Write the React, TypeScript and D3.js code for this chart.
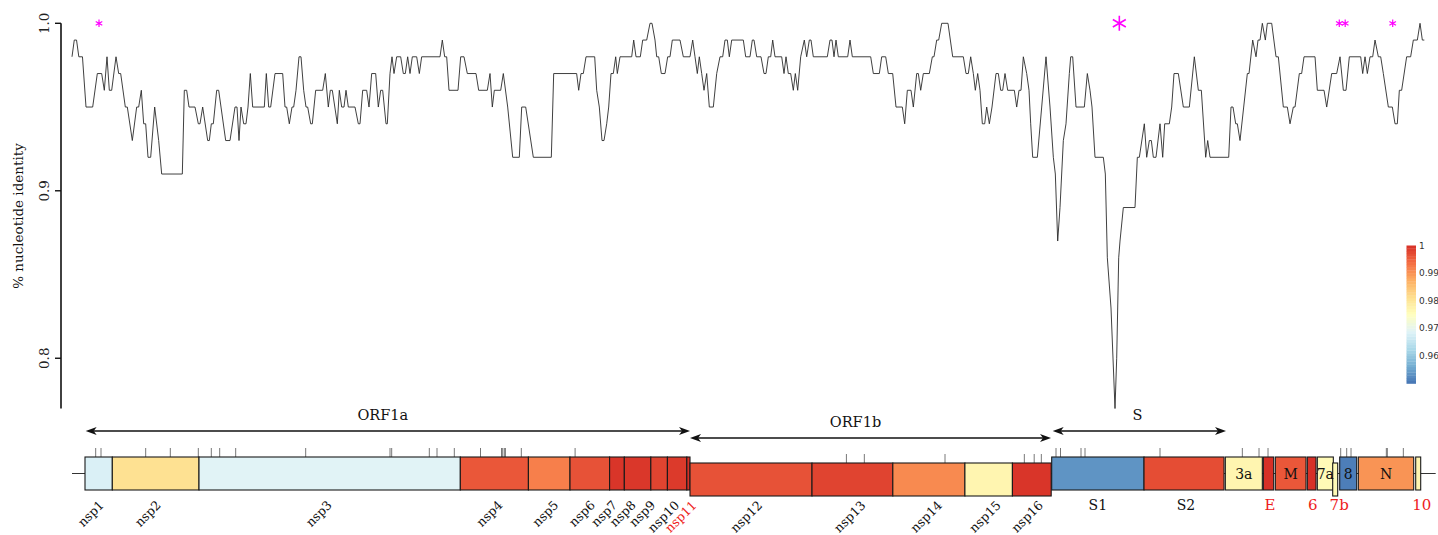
import React from "react";
import * as d3 from "d3";

// ---------- DATA ----------
// Sliding-window nucleotide identity profile: [genome position (nt), identity]
const identityProfile: [number, number][] = [
  [0,.98],[50,.99],[100,.99],[150,.98],[230,.98],[308,.95],[455,.95],[557,.97],[653,.97],[711,.96],[770,.98],[821,.96],[873,.96],[968,.98],[1027,.97],[1071,.97],[1173,.95],[1217,.95],[1327,.93],[1423,.95],[1467,.95],[1525,.96],[1577,.94],[1621,.94],[1672,.92],[1731,.92],[1819,.95],[1907,.93],[1973,.91],[2427,.91],[2471,.96],[2523,.96],[2574,.95],[2706,.95],[2779,.94],[2816,.94],[2875,.95],[2985,.93],[3021,.93],[3065,.94],[3109,.94],[3183,.96],[3227,.96],[3278,.95],[3381,.93],[3476,.93],[3586,.95],[3630,.95],[3674,.93],[3718,.95],[3777,.94],[3828,.94],[3872,.95],[3923,.97],[3975,.95],[4231,.95],[4275,.97],[4327,.95],[4371,.95],[4466,.97],[4635,.97],[4686,.95],[4723,.95],[4781,.94],[4840,.95],[4877,.95],[4928,.96],[4994,.98],[5038,.98],[5097,.96],[5148,.95],[5185,.95],[5251,.94],[5287,.94],[5361,.96],[5515,.96],[5573,.97],[5639,.95],[5683,.96],[5727,.96],[5837,.94],[5881,.96],[5933,.95],[5984,.95],[6028,.96],[6079,.95],[6226,.95],[6299,.94],[6336,.94],[6395,.96],[6483,.96],[6534,.95],[6593,.97],[6681,.97],[6739,.95],[6791,.96],[6835,.96],[6908,.94],[6937,.94],[6996,.97],[7040,.98],[7084,.97],[7143,.98],[7231,.98],[7289,.97],[7333,.97],[7385,.98],[7436,.97],[7487,.98],[7583,.98],[7641,.97],[7693,.98],[8096,.98],[8147,.99],[8199,.98],[8243,.98],[8294,.96],[8492,.96],[8551,.98],[8624,.98],[8697,.97],[8888,.97],[8947,.96],[9137,.96],[9196,.97],[9247,.95],[9291,.96],[9431,.96],[9489,.97],[9585,.95],[9695,.92],[9841,.92],[9893,.95],[9981,.95],[10149,.92],[10545,.92],[10597,.97],[11102,.97],[11147,.96],[11198,.97],[11249,.97],[11308,.98],[11499,.98],[11543,.96],[11601,.95],[11660,.93],[11704,.93],[11763,.94],[11807,.95],[11858,.97],[11909,.97],[11961,.98],[11997,.97],[12056,.98],[12313,.98],[12357,.99],[12408,.98],[12503,.98],[12555,.99],[12643,.99],[12716,1],[12760,1],[12826,.99],[12863,.98],[12907,.98],[12965,.97],[13046,.97],[13105,.98],[13156,.98],[13207,.99],[13376,.99],[13449,.98],[13596,.98],[13655,.99],[13706,.98],[13757,.97],[13801,.98],[13853,.97],[13904,.96],[13963,.97],[14021,.95],[14109,.95],[14183,.97],[14256,.98],[14315,.98],[14366,.99],[14417,.99],[14461,.98],[14513,.99],[14769,.99],[14821,.98],[14916,.98],[14967,.99],[15004,.99],[15063,.98],[15158,.98],[15224,.97],[15268,.97],[15319,.98],[15371,.98],[15415,.99],[15466,.98],[15613,.98],[15664,.97],[15708,.98],[15759,.97],[15811,.97],[15869,.96],[15913,.97],[15965,.96],[16031,.98],[16111,.99],[16163,.98],[16221,.99],[16258,.99],[16309,.98],[16617,.98],[16676,.99],[16720,.99],[16764,.98],[16808,.99],[16859,.98],[17065,.98],[17116,.99],[17167,.98],[17571,.98],[17629,.97],[17761,.97],[17813,.98],[17901,.98],[17959,.97],[18055,.97],[18128,.95],[18267,.95],[18319,.94],[18377,.96],[18458,.96],[18509,.95],[18583,.97],[18619,.97],[18671,.96],[18729,.97],[18861,.97],[18927,.98],[18964,.98],[19023,.99],[19067,.99],[19133,1],[19272,1],[19375,.98],[19609,.98],[19668,.97],[19719,.97],[19771,.98],[19829,.97],[19873,.96],[19925,.97],[19976,.96],[20027,.94],[20079,.94],[20123,.95],[20181,.94],[20240,.95],[20328,.97],[20379,.97],[20431,.96],[20475,.96],[20526,.97],[20585,.96],[20731,.96],[20783,.95],[20834,.96],[20878,.96],[20929,.98],[21003,.97],[21054,.96],[21091,.94],[21135,.92],[21237,.92],[21333,.95],[21428,.98],[21516,.95],[21589,.92],[21633,.91],[21685,.87],[21736,.89],[21809,.93],[21868,.94],[21941,.97],[21971,.98],[22015,.98],[22088,.95],[22271,.95],[22337,.97],[22396,.96],[22440,.95],[22506,.92],[22689,.92],[22733,.91],[22777,.86],[22858,.83],[22946,.77],[22983,.80],[23027,.86],[23056,.87],[23129,.89],[23386,.89],[23437,.92],[23481,.92],[23591,.94],[23643,.92],[23701,.93],[23745,.93],[23789,.92],[23848,.92],[23936,.94],[23995,.92],[24039,.94],[24141,.94],[24193,.95],[24244,.97],[24339,.97],[24449,.95],[24581,.95],[24691,.98],[24779,.96],[24845,.96],[24941,.92],[24985,.93],[25036,.92],[25447,.92],[25498,.95],[25542,.95],[25601,.94],[25637,.94],[25696,.93],[25777,.95],[25857,.97],[25894,.97],[25975,.99],[26048,.98],[26092,.99],[26136,.99],[26187,1],[26253,.99],[26297,1],[26393,1],[26488,.98],[26539,.98],[26649,.95],[26737,.95],[26796,.94],[26869,.95],[26906,.95],[27001,.97],[27052,.97],[27104,.98],[27346,.98],[27397,.96],[27544,.96],[27603,.95],[27713,.97],[27823,.97],[27896,.98],[27969,.96],[28028,.96],[28101,.98],[28351,.98],[28395,.97],[28446,.98],[28497,.97],[28556,.98],[28615,.98],[28666,.99],[28739,.98],[28791,.98],[28849,.97],[28959,.95],[29047,.95],[29106,.94],[29157,.94],[29201,.96],[29252,.96],[29362,.98],[29450,.98],[29509,.99],[29597,.99],[29656,1],[29707,.99],[29751,.99],
];

const genomeLength = 30001;

const geneNames = ["nsp1","nsp2","nsp3","nsp4","nsp5","nsp6","nsp7","nsp8","nsp9","nsp10","nsp11","nsp12","nsp13","nsp14","nsp15","nsp16","S1","S2","3a","E","M","6","7a","7b","8","N","10"];
const geneStart = [286,887,2794,8543,10041,10956,11827,12151,12734,13099,13526,13596,16280,18058,19644,20689,21553,23584,25373,26209,26473,27177,27397,27735,27889,28299,29561];
const geneEnd = [887,2794,8543,10041,10956,11827,12151,12734,13099,13526,13596,16280,18058,19644,20689,21542,23584,25344,26187,26437,27148,27368,27749,27845,28263,29517,29671];
const geneIdentity = [0.968,0.981,0.969,0.996,0.992,0.9965,0.9995,0.9993,0.998,0.999,1.0,0.9965,0.998,0.991,0.977,0.9995,0.9535,0.997,0.977,1.0,0.996,1.0,0.976,0.976,0.951,0.990,0.977];
const geneFrame = [0,0,0,0,0,0,0,0,0,0,0,1,1,1,1,1,0,0,0,0,0,0,0,1,0,0,0];

const orfNames = ["ORF1a","ORF1b","S"];
const orfStart = [301,13596,21575];
const orfEnd = [13596,21538,25388];

const mutationPositions = [521,638,1621,2163,2779,3065,3249,3601,5141,6996,7033,7861,8030,8411,8987,9449,9475,9511,9535,9885,11068,17037,17431,19206,20951,21168,21325,21648,21747,22198,22286,23936,25747,26114,26312,27911,28043,28138,28915,28937,29289];

const asteriskPositions = [594,23041,27880,28010,29055];
const asteriskStrength = [1,2,1,1,1];

const yTicks = [0.8,0.9,1.0];
const colorTicks = [0.96,0.97,0.98,0.99,1];

// ---------- LAYOUT / STYLE ----------
const W = 1438, H = 535;
const SERIF = "'DejaVu Serif', serif";
const SANS = "'DejaVu Sans', sans-serif";
const frameTop = [457, 463];
const boxH = 33;
const orfArrowY = [431, 438, 431];
const orfLabelDx = [-5, -15, -2];
const rotatedNudge: Record<string, number> = { nsp1:6, nsp2:6, nsp3:3, nsp4:9, nsp5:10, nsp6:6, nsp7:1, nsp8:-1, nsp9:-3, nsp10:3, nsp11:9, nsp12:12, nsp13:14, nsp14:14, nsp15:13, nsp16:12 };
const belowLabels: Record<string, { dx: number; color: string; size: number }> = {
  S1: { dx: 0, color: "#111", size: 14 }, S2: { dx: 2, color: "#111", size: 14 },
  E: { dx: 1.5, color: "#ee1c1c", size: 15 }, "6": { dx: 1, color: "#ee1c1c", size: 15 },
  "7b": { dx: 4, color: "#ee1c1c", size: 15 }, "10": { dx: 3.5, color: "#ee1c1c", size: 15 },
};
const insideLabels = new Set(["3a","M","7a","8","N"]);
const redRotated = new Set(["nsp11"]);

export default function App() {
  const x = d3.scaleLinear().domain([0, genomeLength]).range([72, 1435.7]);
  const y = d3.scaleLinear().domain([0.77, 1.0]).range([408.5, 23.3]);
  const colorDomain = d3.range(9).map((i) => 1 - (i * 0.05) / 8);
  const color = d3.scaleLinear<string>().domain(colorDomain).range(d3.schemeRdYlBu[9] as string[]).interpolate(d3.interpolateRgb).clamp(true);
  const cbY = d3.scaleLinear().domain([0.95, 1.0]).range([383.5, 245.5]);

  const line = d3.line<[number, number]>().x((d) => x(d[0])).y((d) => y(d[1]));

  const arrowHead = (px: number, py: number, dir: number) => {
    const L = 11, hw = 4, n = 8;
    return `M${px},${py}L${px - dir * L},${py - hw}L${px - dir * n},${py}L${px - dir * L},${py + hw}Z`;
  };

  const asteriskPath = (cx: number, cy: number, r: number) => {
    let p = "";
    for (const a of [90, 30, 150]) {
      const rad = (a * Math.PI) / 180;
      const dx = r * Math.cos(rad), dy = r * Math.sin(rad);
      p += `M${cx - dx},${cy - dy}L${cx + dx},${cy + dy}`;
    }
    return p;
  };

  const bands = d3.range(50).map((i) => 0.95 + (i * 0.05) / 50);

  return (
    <div style={{ position: "absolute", left: 0, top: 0, width: W, height: H, background: "#fff" }}>
      <svg width={W} height={H} viewBox={`0 0 ${W} ${H}`} style={{ display: "block" }}>
        {/* y axis */}
        <line x1={61} x2={61} y1={y(1.0)} y2={y(0.77)} stroke="#111" strokeWidth={1.6} />
        {yTicks.map((t) => (
          <g key={t}>
            <line x1={55} x2={61} y1={y(t)} y2={y(t)} stroke="#111" strokeWidth={1.4} />
            <text transform={`translate(49,${y(t)}) rotate(-90)`} textAnchor="middle" fontFamily={SERIF} fontSize={13.5} fill="#222">
              {t.toFixed(1)}
            </text>
          </g>
        ))}
        <text transform={`translate(23,216) rotate(-90)`} textAnchor="middle" fontFamily={SERIF} fontSize={13.5} fill="#111">
          % nucleotide identity
        </text>

        {/* identity line */}
        <path d={line(identityProfile) || ""} fill="none" stroke="#2a2a2a" strokeWidth={0.9} strokeLinejoin="round" />

        {/* asterisks */}
        {asteriskPositions.map((p, i) => (
          <path key={i} d={asteriskPath(x(p), y(1.0), asteriskStrength[i] === 2 ? 7.5 : 3.8)} stroke="#ff00ff" strokeWidth={asteriskStrength[i] === 2 ? 1.6 : 1.2} fill="none" />
        ))}

        {/* colour bar */}
        {bands.map((b, i) => (
          <rect key={i} x={1406.5} width={9.5} y={cbY(b + 0.001)} height={cbY(b) - cbY(b + 0.001) + 0.3} fill={color(b + 0.0005)} />
        ))}
        {colorTicks.map((t) => (
          <text key={t} x={1419} y={cbY(t) + 3} fontFamily={SANS} fontSize={9} fill="#333">
            {String(t)}
          </text>
        ))}

        {/* ORF arrows */}
        {orfNames.map((name, i) => {
          const x1 = x(orfStart[i]), x2 = x(orfEnd[i]);
          const yy = orfArrowY[i];
          return (
            <g key={name}>
              <line x1={x1 + 8} x2={x2 - 8} y1={yy} y2={yy} stroke="#111" strokeWidth={1.3} />
              <path d={arrowHead(x1, yy, -1)} fill="#111" />
              <path d={arrowHead(x2, yy, 1)} fill="#111" />
              <text x={(x1 + x2) / 2 + orfLabelDx[i]} y={yy - 11} textAnchor="middle" fontFamily={SERIF} fontSize={14.5} fill="#111">
                {name}
              </text>
            </g>
          );
        })}

        {/* genome backbone */}
        <line x1={x(0)} x2={x(genomeLength)} y1={frameTop[0] + boxH / 2} y2={frameTop[0] + boxH / 2} stroke="#333" strokeWidth={1} />

        {/* mutation ticks */}
        {mutationPositions.map((m, i) => {
          const inB = m > 13596 && m < 21542;
          const top = inB ? frameTop[1] : frameTop[0];
          return <line key={i} x1={x(m)} x2={x(m)} y1={top - 9} y2={top} stroke="#555" strokeWidth={0.8} />;
        })}

        {/* gene boxes */}
        {geneNames.map((g, i) => {
          const x1 = x(geneStart[i]), x2 = x(geneEnd[i]);
          const top = frameTop[geneFrame[i]];
          return (
            <rect key={g} x={x1} y={top} width={x2 - x1} height={boxH} fill={color(geneIdentity[i])} stroke="#1a1a1a" strokeWidth={1.1} />
          );
        })}

        {/* gene labels */}
        {geneNames.map((g, i) => {
          const xc = (x(geneStart[i]) + x(geneEnd[i])) / 2;
          if (g in rotatedNudge) {
            return (
              <text key={g} transform={`translate(${xc + rotatedNudge[g]},506) rotate(-45)`} textAnchor="end" fontFamily={SERIF} fontSize={12.5} fill={redRotated.has(g) ? "#ee1c1c" : "#111"}>
                {g}
              </text>
            );
          }
          if (insideLabels.has(g)) {
            return (
              <text key={g} x={xc} y={frameTop[0] + boxH / 2 + 5} textAnchor="middle" fontFamily={SERIF} fontSize={14} fill="#111">
                {g}
              </text>
            );
          }
          const bl = belowLabels[g];
          return (
            <text key={g} x={xc + bl.dx} y={510} textAnchor="middle" fontFamily={SERIF} fontSize={bl.size} fill={bl.color}>
              {g}
            </text>
          );
        })}
      </svg>
    </div>
  );
}
